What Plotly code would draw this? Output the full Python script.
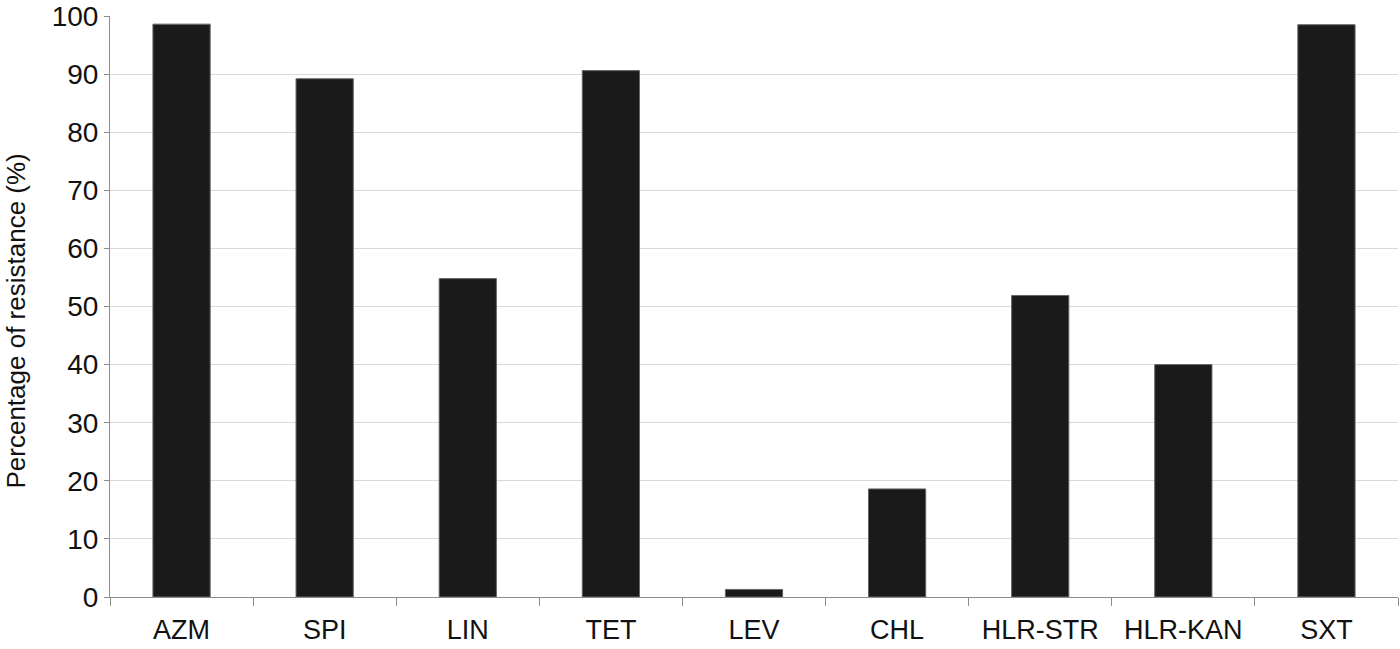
import plotly.graph_objects as go

categories = ["AZM", "SPI", "LIN", "TET", "LEV", "CHL", "HLR-STR", "HLR-KAN", "SXT"]
resistance = [98.6, 89.2, 54.8, 90.6, 1.3, 18.6, 51.9, 40.0, 98.5]
y_ticks = [0, 10, 20, 30, 40, 50, 60, 70, 80, 90, 100]
y_title = "Percentage of resistance (%)"

fig = go.Figure(go.Bar(
    x=categories, y=resistance,
    marker=dict(color="#1a1a1a", line=dict(color="#666666", width=1)),
    width=0.4,
))

font = dict(family="Liberation Sans, Arial, sans-serif", size=28, color="#111111")
fig.update_layout(
    width=1400, height=649,
    margin=dict(l=110, r=2, t=16, b=52),
    plot_bgcolor="white", paper_bgcolor="white",
    font=font, showlegend=False,
)
fig.add_annotation(
    text=y_title, textangle=-90, showarrow=False,
    xref="paper", yref="paper", x=-0.0726, y=0.475,
    xanchor="center", yanchor="middle", font=dict(size=26),
)
fig.update_yaxes(
    range=[0, 100], tickvals=y_ticks,
    showgrid=True, gridcolor="#d9d9d9", gridwidth=1,
    showline=True, linecolor="#8c8c8c", linewidth=1,
    ticks="outside", ticklen=5, tickcolor="#8c8c8c",
    tickfont=dict(size=28), zeroline=False, automargin=False,
)
fig.update_xaxes(
    showline=True, linecolor="#8c8c8c", linewidth=1,
    ticks="outside", ticklen=8, tickcolor="#8c8c8c", tickson="boundaries",
    tickfont=dict(size=27), showgrid=False, ticklabelstandoff=9,
)
fig.write_html(
    "out.html",
    config={"displayModeBar": False},
    post_script="document.body.style.margin='0';document.body.style.overflow='hidden';",
)
